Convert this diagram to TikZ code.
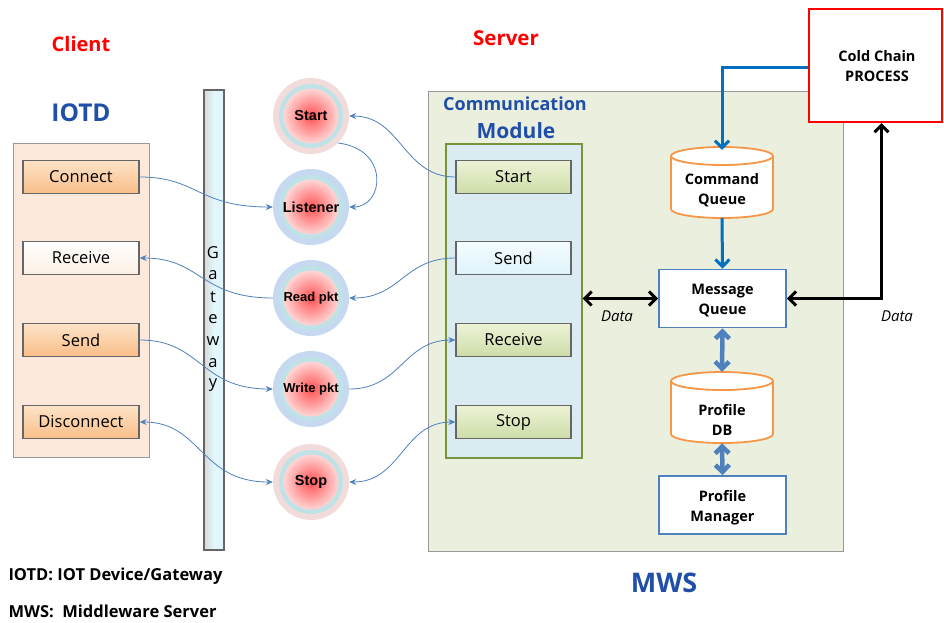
\documentclass[tikz,border=0pt]{standalone}
\usepackage{fontspec}
\setmainfont{Open Sans}
\newfontfamily\arialf{Liberation Sans}
\usetikzlibrary{arrows.meta,positioning,calc}
\definecolor{peachbg}{HTML}{FCE9DB}
\definecolor{obtntop}{HTML}{FDE3C8}
\definecolor{obtnbot}{HTML}{F9BE88}
\definecolor{wbtntop}{HTML}{FFFFFF}
\definecolor{wbtnbot}{HTML}{FCEFE2}
\definecolor{gbtntop}{HTML}{ECF3D6}
\definecolor{gbtnbot}{HTML}{CDDDA8}
\definecolor{sbtntop}{HTML}{F4FCFF}
\definecolor{sbtnbot}{HTML}{DDF4FA}
\definecolor{commbg}{HTML}{DAECF2}
\definecolor{commbd}{HTML}{77933C}
\definecolor{mwsbg}{HTML}{EBEFDE}
\definecolor{titleblue}{HTML}{1F4FA8}
\definecolor{pinkout}{HTML}{F2DCDB}
\definecolor{blueout}{HTML}{C6D9F1}
\definecolor{ringc}{HTML}{BFE2E6}
\definecolor{redin}{HTML}{FF5252}
\definecolor{redout}{HTML}{FFD6D6}
\definecolor{connc}{HTML}{4F81BD}
\definecolor{lineblue}{HTML}{0070C0}
\definecolor{cylor}{HTML}{F79646}
\definecolor{gatefill}{HTML}{E2F7FD}
\newcommand{\fsz}[1]{\fontsize{#1}{#1}\selectfont}
\newcommand{\fszz}[1]{\fontsize{#1}{20}\selectfont}
\tikzset{
  btn/.style={draw=black!60, line width=1.3pt, minimum width=116pt, minimum height=33pt, inner sep=0pt, font=\fsz{16.5}},
  obtn/.style={btn, top color=obtntop, bottom color=obtnbot},
  wbtn/.style={btn, top color=wbtntop, bottom color=wbtnbot},
  gbtn/.style={btn, minimum width=115pt, top color=gbtntop, bottom color=gbtnbot},
  sbtn/.style={btn, minimum width=115pt, top color=sbtntop, bottom color=sbtnbot},
  ball/.style={circle, minimum size=76pt, inner sep=0pt, font=\arialf\bfseries\fsz{14.5},
    path picture={
      \fill[ringc] (path picture bounding box.center) circle[radius=32pt];
      \shade[inner color=redin, outer color=redout] (path picture bounding box.center) circle[radius=27.5pt];
    }},
  pball/.style={ball, fill=pinkout},
  bball/.style={ball, fill=blueout},
  conn/.style={draw=connc, line width=0.8pt, -{Stealth[length=7pt,width=6pt]}},
  conn2/.style={draw=connc, line width=0.8pt, {Stealth[length=7pt,width=6pt]}-{Stealth[length=7pt,width=6pt]}},
  bbox/.style={draw=connc, line width=1.8pt, fill=white, minimum width=127pt, minimum height=58pt},
  cylnode/.style={minimum width=102pt, minimum height=71pt},
  lbl/.style={align=center, font=\bfseries\fszz{14.5}},
  cylshape/.style={draw=cylor, line width=1.8pt, fill=white},
  blk/.style={draw=black, line width=3pt, {Straight Barb[length=7pt,width=14pt]}-{Straight Barb[length=7pt,width=14pt]}},
  blu/.style={draw=lineblue, line width=3pt, -{Straight Barb[length=7pt,width=14pt]}},
  dblu/.style={draw=connc, line width=4.5pt, {Straight Barb[length=7pt,width=14pt]}-{Straight Barb[length=7pt,width=14pt]}},
  datal/.style={font=\itshape\fsz{15}},
}
\begin{document}
\begin{tikzpicture}[x=1pt,y=-1pt]
\useasboundingbox (0,0) rectangle (944,622);
\fill[white] (0,0) rectangle (944,622);

% titles
\node[text=red, font=\bfseries\fsz{20}] (tclient) at (81,44) {Client};
\node[text=red, font=\bfseries\fsz{20.5}] (tserver) at (506,38) {Server};
\node[text=titleblue, font=\bfseries\fsz{24.5}] (tiotd) at (81,113) {IOTD};

% client panel
\node[draw=black!40, fill=peachbg, line width=0.8pt, minimum width=136pt, minimum height=314pt, inner sep=0pt] (cpanel) at (81,300) {};
\node[obtn] (iconnect) at (81,177) {Connect};
\node[wbtn] (ireceive) at (81,258) {Receive};
\node[obtn] (isend) at (81,340) {Send};
\node[obtn] (idisc) at (81,422) {Disconnect};

% gateway bar
\node[draw=black!60, line width=1.8pt, left color=gray!30, right color=gatefill, middle color=gatefill, minimum width=20pt, minimum height=460pt, inner sep=0pt] (gate) at (214,320) {};
\foreach \l [count=\i] in {G,a,t,e,w,a,y}
  \node[font=\fsz{16.5}] (g\i) at (213,{253+22*(\i-1)}) {\l};

% MWS panel
\node[draw=black!40, fill=mwsbg, line width=0.8pt, minimum width=415pt, minimum height=460pt, inner sep=0pt] (mws) at (635.5,321) {};
\node[text=titleblue, font=\bfseries\fsz{18}] (tcomm) at (515,104) {Communication};
\node[text=titleblue, font=\bfseries\fsz{21}] (tmod) at (516,131) {Module};
\node[draw=commbd, fill=commbg, line width=2pt, minimum width=136pt, minimum height=314pt, inner sep=0pt] (comm) at (513.5,300.5) {};
\node[gbtn] (sstart) at (513.5,177) {Start};
\node[sbtn] (ssend) at (513.5,258) {Send};
\node[gbtn] (sreceive) at (513.5,340) {Receive};
\node[gbtn] (sstop) at (513.5,422) {Stop};

% balls
\node[pball] (cstart) at (311,116) {Start};
\node[bball] (clisten) at (311,207) {Listener};
\node[bball, font=\arialf\bfseries\fsz{13}] (cread) at (311,298) {Read pkt};
\node[bball, font=\arialf\bfseries\fsz{13}] (cwrite) at (311,389) {Write pkt};
\node[pball] (cstop) at (311,482) {Stop};

% cylinders
\path[cylshape] (671,156) -- (671,209) arc[start angle=180,end angle=360,x radius=51pt,y radius=9pt] -- (773,156) arc[start angle=0,end angle=180,x radius=51pt,y radius=9pt] -- cycle;
\draw[draw=cylor, line width=1.8pt] (671,156) arc[start angle=180,end angle=360,x radius=51pt,y radius=9pt];
\node[cylnode] (cq) at (722,182.5) {};
\node[lbl] (cqt) at (722,190) {Command\\Queue};
\path[cylshape] (671,381) -- (671,434) arc[start angle=180,end angle=360,x radius=51pt,y radius=9pt] -- (773,381) arc[start angle=0,end angle=180,x radius=51pt,y radius=9pt] -- cycle;
\draw[draw=cylor, line width=1.8pt] (671,381) arc[start angle=180,end angle=360,x radius=51pt,y radius=9pt];
\node[cylnode] (pdb) at (722,407.5) {};
\node[lbl] (pdbt) at (722,420) {Profile\\DB};

% boxes
\node[bbox] (mq) at (722.5,298.5) {};
\node[lbl] (mqt) at (722.5,301) {Message\\Queue};
\node[bbox] (pm) at (722.5,505) {};
\node[lbl] (pmt) at (722.5,507.5) {Profile\\Manager};
\node[draw=red, line width=2.2pt, fill=white, minimum width=133pt, minimum height=113pt] (cold) at (875.5,65.5) {};
\node[lbl] (coldt) at (877,66) {Cold Chain\\PROCESS};

% connectors client side
\draw[conn] (iconnect.east) .. controls +(58,0) and +(-75,0) .. (clisten.west);
\draw[conn] (cread.west) .. controls +(-73,0) and +(62,0) .. (ireceive.east);
\draw[conn] (isend.east) .. controls +(62,0) and +(-73,0) .. (cwrite.west);
\draw[conn2] (idisc.east) .. controls +(62,0) and +(-73,0) .. (cstop.west);

% connectors server side
\draw[conn] (sstart.west) .. controls +(-52,0) and +(52,0) .. (cstart.east);
\draw[conn] (cstart.-45) .. controls +(52,6) and +(35,0) .. (clisten.east);
\draw[conn] (ssend.west) .. controls +(-52,0) and +(52,0) .. (cread.east);
\draw[conn] (cwrite.east) .. controls +(52,0) and +(-52,0) .. (sreceive.west);
\draw[conn2] (sstop.west) .. controls +(-52,0) and +(52,0) .. (cstop.east);

% MWS internal
\draw[blk] (mq.west -| comm.east) -- (mq.west);
\draw[blk] (mq.east) -| ([xshift=6pt]cold.south);
\node[datal] (d1) at (617,316) {Data};
\node[datal] (d2) at (897,316) {Data};
\draw[blu] ([yshift=-2pt]cold.west) -| ([yshift=-3pt]cq.north);
\draw[blu] (cq.south) -- (mq.north);
\draw[dblu] (mq.south) -- (pdb.north);
\draw[dblu] (pdb.south) -- (pm.north);

\node[text=titleblue, font=\bfseries\fsz{27}] (tmws) at (664,583) {MWS};
\node[anchor=west, font=\bfseries\fsz{16.5}] (n1) at (5,576) {IOTD: IOT Device/Gateway};
\node[anchor=west, font=\bfseries\fsz{16.5}] (n2) at (5,611) {MWS: \ Middleware Server};
\end{tikzpicture}
\end{document}
